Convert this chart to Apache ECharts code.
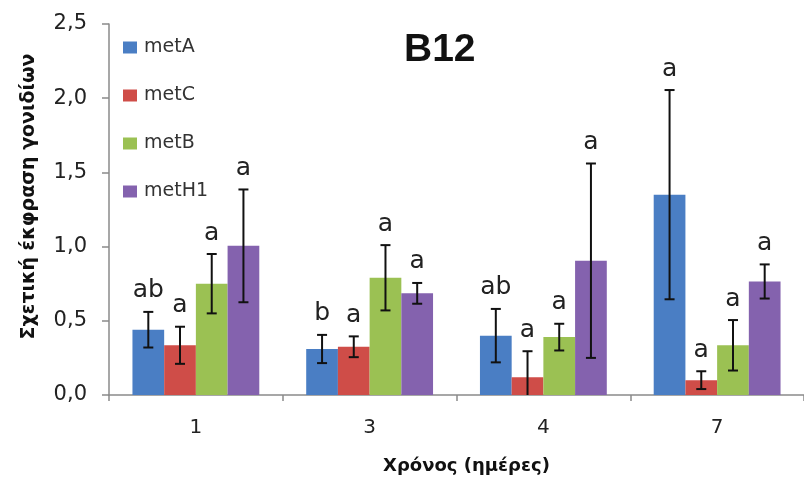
<!DOCTYPE html>
<html>
<head>
<meta charset="utf-8">
<script src="https://cdn.jsdelivr.net/npm/echarts@6/dist/echarts.min.js"></script>
<style>html,body{margin:0;padding:0;background:#fff}#c{width:804px;height:480px}</style>
</head>
<body>
<div id="c"></div>
<script>
const categories = ['1', '3', '4', '7'];
const seriesNames = ['metA', 'metC', 'metB', 'metH1'];
const metA = [0.44, 0.31, 0.40, 1.35];
const metAErr = [0.12, 0.095, 0.18, 0.705];
const metC = [0.335, 0.325, 0.12, 0.10];
const metCErr = [0.125, 0.07, 0.175, 0.06];
const metB = [0.75, 0.79, 0.39, 0.335];
const metBErr = [0.20, 0.22, 0.09, 0.17];
const metH1 = [1.005, 0.685, 0.905, 0.765];
const metH1Err = [0.38, 0.07, 0.655, 0.115];
const metALetters = ['ab', 'b', 'ab', 'a'];
const metCLetters = ['a', 'a', 'a', 'a'];
const metBLetters = ['a', 'a', 'a', 'a'];
const metH1Letters = ['a', 'a', 'a', 'a'];
const yMin = 0, yMax = 2.5, yInterval = 0.5;

const values = [metA, metC, metB, metH1];
const errors = [metAErr, metCErr, metBErr, metH1Err];
const letters = [metALetters, metCLetters, metBLetters, metH1Letters];
const colors = ['#4a7ec4', '#cf4d48', '#9bc153', '#8462ae'];
const catGap = 0.27;
const FONT = 'DejaVu Sans';

const series = [];
seriesNames.forEach((name, s) => {
  series.push({
    name: name, type: 'bar', data: values[s],
    barGap: '0%', barCategoryGap: (catGap * 100) + '%',
    itemStyle: { color: colors[s] }, z: 2
  });
});
seriesNames.forEach((name, s) => {
  series.push({
    type: 'custom', name: name + '_err', silent: true, clip: false, z: 5,
    data: categories.map((c, i) => [i, values[s][i], errors[s][i]]),
    encode: { x: 0, y: 1 },
    renderItem: function (params, api) {
      const i = api.value(0), v = api.value(1), e = api.value(2);
      const bandW = api.size([1, 0])[0];
      const bw = bandW * (1 - catGap) / 4;
      const cx = api.coord([i, v])[0] + (s - 1.5) * bw;
      const lowV = Math.max(0, v - e);
      const yTop = api.coord([i, v + e])[1];
      const yBot = api.coord([i, lowV])[1];
      const cap = 5;
      const st = { stroke: '#111', lineWidth: 2 };
      const children = [
        { type: 'line', shape: { x1: cx, y1: yTop, x2: cx, y2: yBot }, style: st },
        { type: 'line', shape: { x1: cx - cap, y1: yTop, x2: cx + cap, y2: yTop }, style: st }
      ];
      if (v - e > 0) {
        children.push({ type: 'line', shape: { x1: cx - cap, y1: yBot, x2: cx + cap, y2: yBot }, style: st });
      }
      children.push({
        type: 'text',
        style: {
          x: cx, y: yTop - 21, text: letters[s][params.dataIndex],
          fill: '#222', font: '25px "' + FONT + '"', align: 'center', verticalAlign: 'middle'
        }
      });
      return { type: 'group', children: children };
    }
  });
});

const chart = echarts.init(document.getElementById('c'), null, { renderer: 'canvas' });
chart.setOption({
  backgroundColor: '#fff',
  animation: false,
  title: {
    text: 'B12', left: 404, top: 31, padding: 0,
    textStyle: { fontFamily: 'Liberation Sans', fontWeight: 'bold', fontSize: 39, color: '#111' }
  },
  legend: {
    data: seriesNames, orient: 'vertical', left: 123, top: 38, padding: 0,
    icon: 'rect', itemWidth: 14, itemHeight: 12, itemGap: 29,
    textStyle: { fontFamily: FONT, fontSize: 19, color: '#333', padding: [0, 0, 0, 2] }
  },
  grid: { left: 109, top: 24, width: 700, height: 375, containLabel: false },
  xAxis: {
    type: 'category', data: categories,
    name: 'Χρόνος (ημέρες)', nameLocation: 'middle', nameGap: 62,
    nameTextStyle: { fontFamily: FONT, fontWeight: 'bold', fontSize: 18, color: '#111', padding: [0, 0, 0, 20] },
    axisLine: { lineStyle: { color: '#8a8a8a', width: 1.5 } },
    axisTick: { show: true, alignWithLabel: false, length: 6, lineStyle: { color: '#8a8a8a', width: 1.5 } },
    axisLabel: { fontFamily: FONT, fontSize: 20, color: '#222', margin: 23 },
    splitLine: { show: false }
  },
  yAxis: {
    type: 'value', min: yMin, max: yMax, interval: yInterval,
    name: 'Σχετική έκφραση γονιδίων', nameLocation: 'middle', nameRotate: 90, nameGap: 70,
    nameTextStyle: { fontFamily: FONT, fontWeight: 'bold', fontSize: 19, color: '#111', padding: [0, 0, 0, 26] },
    axisLine: { show: true, lineStyle: { color: '#8a8a8a', width: 1.5 } },
    axisTick: { show: true, inside: false, length: 7, lineStyle: { color: '#8a8a8a', width: 1.5 } },
    axisLabel: {
      fontFamily: FONT, fontSize: 21, color: '#222', margin: 22,
      formatter: v => v.toFixed(1).replace('.', ',')
    },
    splitLine: { show: false }
  },
  series: series
});
</script>
</body>
</html>
